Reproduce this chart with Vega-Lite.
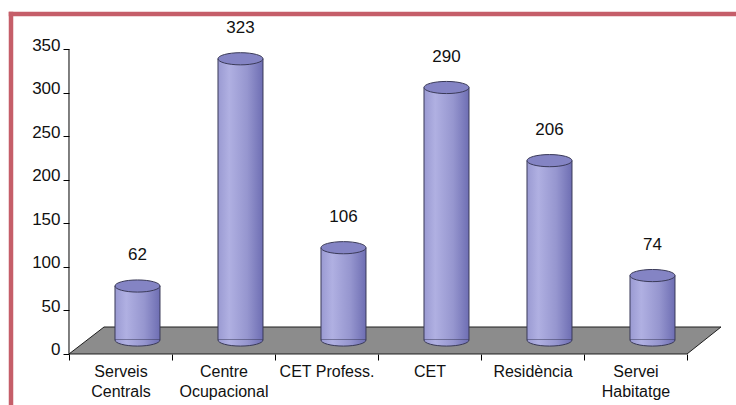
{
  "$schema": "https://vega.github.io/schema/vega-lite/v6.json",
  "autosize": "none",
  "padding": {"left": 11, "top": 14, "right": 0, "bottom": 0},
  "width": 725,
  "height": 391,
  "background": "white",
  "config": {"view": {"stroke": null}, "font": "Liberation Sans"},
  "datasets": {
    "counts": [
      {"centre": "Serveis Centrals", "persones": 62},
      {"centre": "Centre Ocupacional", "persones": 323},
      {"centre": "CET Profess.", "persones": 106},
      {"centre": "CET", "persones": 290},
      {"centre": "Residència", "persones": 206},
      {"centre": "Servei Habitatge", "persones": 74}
    ],
    "floor": [
      {"fx": 0, "fy": 0, "fy2": 0},
      {"fx": 0.34, "fy": 31, "fy2": 0},
      {"fx": 6, "fy": 31, "fy2": 0},
      {"fx": 6.33, "fy": 31, "fy2": 31}
    ]
  },
  "resolve": {"scale": {"x": "independent"}},
  "layer": [
    {
      "layer": [
        {
          "data": {"name": "floor"},
          "mark": {"type": "area", "fill": "#8c8c8c", "stroke": "#1e1e1e", "strokeWidth": 1, "interpolate": "linear"},
          "encoding": {
            "x": {"field": "fx", "type": "quantitative", "scale": {"domain": [-0.5631, 6.4757], "nice": false, "zero": false}, "axis": null},
            "y": {"field": "fy", "type": "quantitative", "scale": {"domain": [-58.58, 390.5], "nice": false, "zero": false},
              "axis": {"title": null, "values": [0, 50, 100, 150, 200, 250, 300, 350], "offset": -58, "domain": false, "grid": false,
                "tickSize": 6, "tickColor": "#000000", "labelFontSize": 17, "labelColor": "#111111", "labelPadding": 3, "labelBaseline": "alphabetic", "labelOffset": 1}},
            "y2": {"field": "fy2"}
          }
        },
        {
          "data": {"values": [{}]},
          "mark": {"type": "rule", "color": "#c55e69", "strokeWidth": 4.5, "strokeCap": "square"},
          "encoding": {
            "y": {"datum": 390.5, "type": "quantitative", "scale": {"domain": [-58.58, 390.5], "nice": false, "zero": false},
              "axis": {"title": null, "values": [0, 50, 100, 150, 200, 250, 300, 350], "offset": -58, "domain": false, "grid": false,
                "tickSize": 6, "tickColor": "#000000", "labelFontSize": 17, "labelColor": "#111111", "labelPadding": 3, "labelBaseline": "alphabetic", "labelOffset": 1}}
          }
        },
        {
          "data": {"values": [{}]},
          "mark": {"type": "rule", "color": "#c55e69", "strokeWidth": 4.5, "strokeCap": "square"},
          "encoding": {
            "x": {"datum": -0.5631, "type": "quantitative", "scale": {"domain": [-0.5631, 6.4757], "nice": false, "zero": false}, "axis": null}
          }
        },
        {
          "data": {"values": [{}]},
          "mark": {"type": "rule", "color": "#000000", "strokeWidth": 1},
          "encoding": {
            "x": {"datum": 0, "type": "quantitative", "scale": {"domain": [-0.5631, 6.4757], "nice": false, "zero": false}, "axis": null},
            "y": {"datum": 0, "type": "quantitative", "scale": {"domain": [-58.58, 390.5], "nice": false, "zero": false},
              "axis": {"title": null, "values": [0, 50, 100, 150, 200, 250, 300, 350], "offset": -58, "domain": false, "grid": false,
                "tickSize": 6, "tickColor": "#000000", "labelFontSize": 17, "labelColor": "#111111", "labelPadding": 3, "labelBaseline": "alphabetic", "labelOffset": 1}},
            "y2": {"datum": 350}
          }
        }
      ]
    },
    {
      "data": {"name": "counts"},
      "layer": [
        {
          "mark": {
            "type": "bar", "width": 45, "xOffset": 17, "yOffset": -14, "y2Offset": -14,
            "stroke": "#3a3a58", "strokeWidth": 1,
            "fill": {"gradient": "linear", "x1": 0, "x2": 1, "y1": 0, "y2": 0,
              "stops": [{"offset": 0, "color": "#9a9ad2"}, {"offset": 0.25, "color": "#b0b0e2"}, {"offset": 0.65, "color": "#9696cf"}, {"offset": 1, "color": "#6e6eb3"}]}
          },
          "encoding": {
            "x": {"field": "centre", "type": "nominal", "sort": null,
              "scale": {"type": "band", "paddingInner": 0, "paddingOuter": 0.5194, "align": 0.542},
              "axis": {"title": null, "offset": -51, "domain": false, "tickBand": "extent", "tickSize": 6, "tickColor": "#000000",
                "labelAngle": 0, "labelFontSize": 16, "labelColor": "#111111", "labelPadding": 3, "labelLineHeight": 20,
                "labelExpr": "datum.label == 'CET Profess.' ? datum.label : split(datum.label, ' ')"}},
            "y": {"field": "persones", "type": "quantitative",
              "scale": {"domain": [-58.58, 390.5], "nice": false, "zero": false},
              "axis": {"title": null, "values": [0, 50, 100, 150, 200, 250, 300, 350], "offset": -58, "domain": false, "grid": false,
                "tickSize": 6, "tickColor": "#000000", "labelFontSize": 17, "labelColor": "#111111", "labelPadding": 3, "labelBaseline": "alphabetic", "labelOffset": 1}},
            "y2": {"datum": 0}
          }
        },
        {
          "mark": {
            "type": "point", "shape": "M -1 0 A 1 0.27 0 0 0 1 0", "size": 2025, "filled": true, "opacity": 1,
            "xOffset": 17, "yOffset": -14, "stroke": "#3a3a58", "strokeWidth": 1,
            "fill": {"gradient": "linear", "x1": 0, "x2": 1, "y1": 0, "y2": 0,
              "stops": [{"offset": 0, "color": "#9a9ad2"}, {"offset": 0.25, "color": "#b0b0e2"}, {"offset": 0.65, "color": "#9696cf"}, {"offset": 1, "color": "#6e6eb3"}]}
          },
          "encoding": {
            "x": {"field": "centre", "type": "nominal", "sort": null,
              "scale": {"type": "band", "paddingInner": 0, "paddingOuter": 0.5194, "align": 0.542},
              "axis": {"title": null, "offset": -51, "domain": false, "tickBand": "extent", "tickSize": 6, "tickColor": "#000000",
                "labelAngle": 0, "labelFontSize": 16, "labelColor": "#111111", "labelPadding": 3, "labelLineHeight": 20,
                "labelExpr": "datum.label == 'CET Profess.' ? datum.label : split(datum.label, ' ')"}},
            "y": {"datum": 0, "type": "quantitative", "scale": {"domain": [-58.58, 390.5], "nice": false, "zero": false},
              "axis": {"title": null, "values": [0, 50, 100, 150, 200, 250, 300, 350], "offset": -58, "domain": false, "grid": false,
                "tickSize": 6, "tickColor": "#000000", "labelFontSize": 17, "labelColor": "#111111", "labelPadding": 3, "labelBaseline": "alphabetic", "labelOffset": 1}}
          }
        },
        {
          "mark": {
            "type": "point", "shape": "M -1 0 A 1 0.27 0 1 0 1 0 A 1 0.27 0 1 0 -1 0 Z", "size": 2025, "filled": true, "opacity": 1,
            "xOffset": 17, "yOffset": -14, "fill": "#8484c4", "stroke": "#3a3a58", "strokeWidth": 1
          },
          "encoding": {
            "x": {"field": "centre", "type": "nominal", "sort": null,
              "scale": {"type": "band", "paddingInner": 0, "paddingOuter": 0.5194, "align": 0.542},
              "axis": {"title": null, "offset": -51, "domain": false, "tickBand": "extent", "tickSize": 6, "tickColor": "#000000",
                "labelAngle": 0, "labelFontSize": 16, "labelColor": "#111111", "labelPadding": 3, "labelLineHeight": 20,
                "labelExpr": "datum.label == 'CET Profess.' ? datum.label : split(datum.label, ' ')"}},
            "y": {"field": "persones", "type": "quantitative", "scale": {"domain": [-58.58, 390.5], "nice": false, "zero": false},
              "axis": {"title": null, "values": [0, 50, 100, 150, 200, 250, 300, 350], "offset": -58, "domain": false, "grid": false,
                "tickSize": 6, "tickColor": "#000000", "labelFontSize": 17, "labelColor": "#111111", "labelPadding": 3, "labelBaseline": "alphabetic", "labelOffset": 1}}
          }
        },
        {
          "mark": {"type": "text", "xOffset": 17, "yOffset": -45, "baseline": "middle", "align": "center", "fontSize": 17, "color": "#111111"},
          "encoding": {
            "x": {"field": "centre", "type": "nominal", "sort": null,
              "scale": {"type": "band", "paddingInner": 0, "paddingOuter": 0.5194, "align": 0.542},
              "axis": {"title": null, "offset": -51, "domain": false, "tickBand": "extent", "tickSize": 6, "tickColor": "#000000",
                "labelAngle": 0, "labelFontSize": 16, "labelColor": "#111111", "labelPadding": 3, "labelLineHeight": 20,
                "labelExpr": "datum.label == 'CET Profess.' ? datum.label : split(datum.label, ' ')"}},
            "y": {"field": "persones", "type": "quantitative", "scale": {"domain": [-58.58, 390.5], "nice": false, "zero": false},
              "axis": {"title": null, "values": [0, 50, 100, 150, 200, 250, 300, 350], "offset": -58, "domain": false, "grid": false,
                "tickSize": 6, "tickColor": "#000000", "labelFontSize": 17, "labelColor": "#111111", "labelPadding": 3, "labelBaseline": "alphabetic", "labelOffset": 1}},
            "text": {"field": "persones", "type": "quantitative"}
          }
        }
      ]
    }
  ]
}
